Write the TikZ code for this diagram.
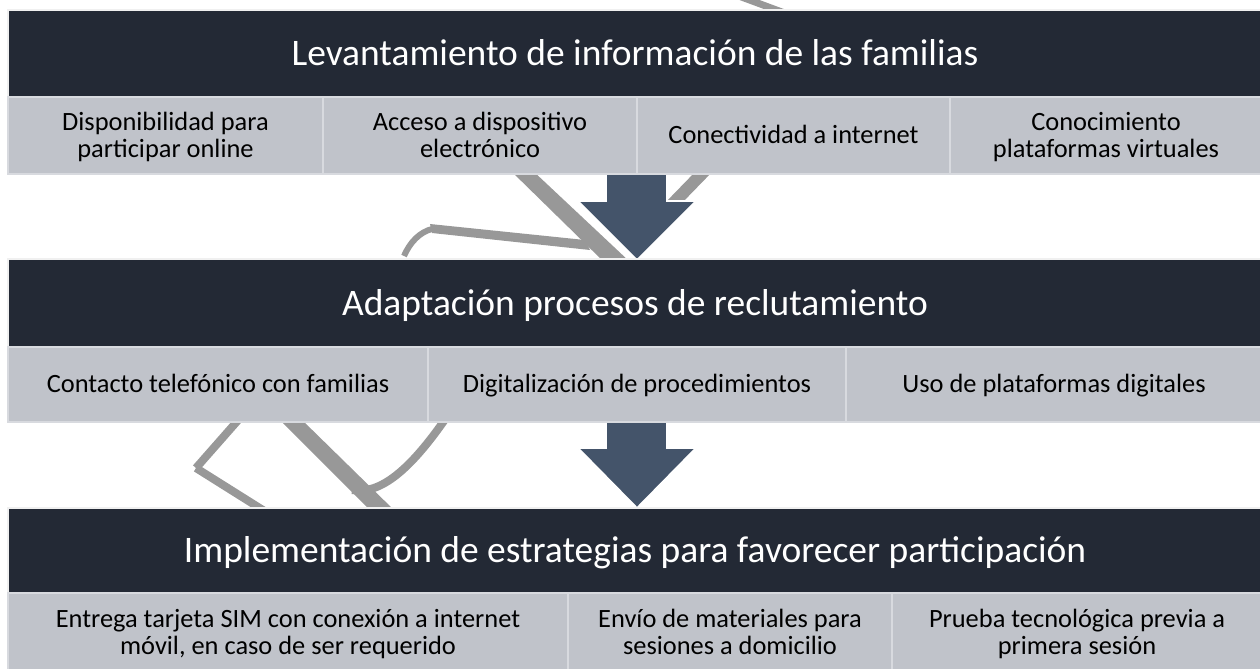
\documentclass[tikz,border=0pt]{standalone}
\usepackage{fontspec}
\setmainfont{Carlito}
\definecolor{hdrc}{RGB}{35,41,53}
\definecolor{cellc}{RGB}{192,195,202}
\definecolor{celledge}{RGB}{216,218,223}
\definecolor{arrowc}{RGB}{68,84,106}
\definecolor{wmc}{RGB}{152,152,152}
\newcommand{\topstrutx}{\rule{0pt}{18.5pt}}
\begin{document}
\begin{tikzpicture}[x=0.75pt,y=-0.75pt,
  sz/.style 2 args={minimum width={#1*0.75pt}, minimum height={#2*0.75pt}},
  hdr/.style={fill=hdrc, draw=white!88!gray, line width=0.8pt, inner sep=0pt,
    text=white, text height=24pt, text depth=6pt, font=\fontsize{28.1}{31}\selectfont},
  cell/.style={fill=cellc, draw=celledge, line width=1.3pt, inner sep=0pt,
    align=center, text=black, font=\fontsize{19.8}{20}\selectfont},
  blockarrow/.style={fill=arrowc, draw=white, line width=1.3pt, line join=miter},
  wm/.style={fill=wmc, draw=none},
  wml/.style={draw=wmc, line width=6pt}]
\useasboundingbox (0,0) rectangle (1260,668);
\begin{scope}
\clip (0,0) rectangle (1260,668);
% watermark remnants
\fill[wm] (726,-5) -- (746,-5) -- (800,15) -- (780,15) -- cycle;
\fill[wm] (510,170) -- (532,170) -- (630,262) -- (604,262) -- cycle;
\fill[wm] (430,224) -- (585,240) -- (590,250) -- (432,233) -- cycle;
\draw[wml, line width=4.5pt] (404,256) .. controls (410,242) and (420,232) .. (432,229);
\fill[wm] (697,170) -- (714,170) -- (680,205) -- (663,205) -- cycle;
\draw[wml] (196,468) -- (240,418);
\draw[wml] (196,468) -- (266,512);
\fill[wm] (278,418) -- (300,418) -- (396,512) -- (372,512) -- cycle;
\draw[wml] (352,490) .. controls (380,495) and (410,470) .. (446,418);
% block arrows
\draw[blockarrow] (606,172) -- (667,172) -- (667,201) -- (696,201) -- (637,260) -- (578,201) -- (606,201) -- cycle;
\draw[blockarrow] (606,420) -- (667,420) -- (667,448) -- (696,448) -- (637,508) -- (578,448) -- (606,448) -- cycle;
% block 1
\node[hdr, sz={1254}{87}] (h1) at (635,53.5) {Levantamiento de información de las familias};
\node[cell, sz={315}{77}] (r1a) at (165.5,135.5) {\topstrutx Disponibilidad para\\participar online\strut};
\node[cell, sz={314}{77}] (r1b) at (480,135.5) {\topstrutx Acceso a dispositivo\\electrónico\strut};
\node[cell, sz={313}{77}] (r1c) at (793.5,135.5) {\topstrutx Conectividad a internet\strut};
\node[cell, sz={312}{77}] (r1d) at (1106,135.5) {\topstrutx Conocimiento\\plataformas virtuales\strut};
% block 2
\node[hdr, sz={1254}{88}] (h2) at (635,303) {Adaptación procesos de reclutamiento};
\node[cell, sz={420}{75}] (r2a) at (218,384.5) {\topstrutx Contacto telefónico con familias\strut};
\node[cell, sz={418}{75}] (r2b) at (637,384.5) {\topstrutx Digitalización de procedimientos\strut};
\node[cell, sz={416}{75}] (r2c) at (1054,384.5) {\topstrutx Uso de plataformas digitales\strut};
% block 3
\node[hdr, sz={1254}{85}] (h3) at (635,550.5) {Implementación de estrategias para favorecer participación};
\node[cell, sz={560}{79}] (r3a) at (288,632.5) {\topstrutx Entrega tarjeta SIM con conexión a internet\\móvil, en caso de ser requerido\strut};
\node[cell, sz={324}{79}] (r3b) at (730,632.5) {\topstrutx Envío de materiales para\\sesiones a domicilio\strut};
\node[cell, sz={370}{79}] (r3c) at (1077,632.5) {\topstrutx Prueba tecnológica previa a\\primera sesión\strut};
\end{scope}
\end{tikzpicture}
\end{document}
